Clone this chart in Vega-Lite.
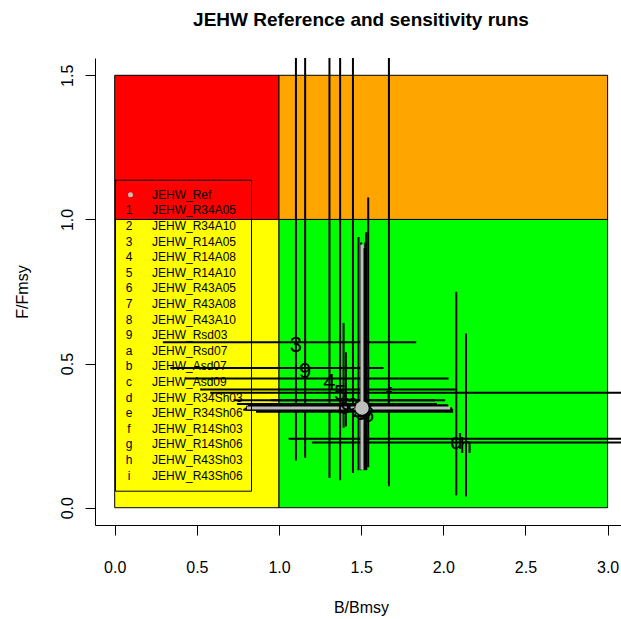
{
  "$schema": "https://vega.github.io/schema/vega-lite/v6.json",
  "width": 526,
  "height": 467,
  "autosize": {"type": "none"},
  "padding": {"left": 95, "top": 58, "right": 0, "bottom": 94},
  "title": {"text": "JEHW Reference and sensitivity runs", "fontSize": 19, "fontWeight": "bold", "color": "black", "baseline": "alphabetic", "frame": "group", "offset": 13, "dx": 3, "anchor": "middle"},
  "config": {"view": {"stroke": null}, "font": "Liberation Sans"},
  "datasets": {
    "runs": [
      {"run": "JEHW_Ref", "code": "", "B": 1.505, "F": 0.346, "Blo": 0.805, "Bhi": 2.042, "Flo": 0.132, "Fhi": 0.913},
      {"run": "JEHW_R34A05", "code": "1", "B": 1.519, "F": 0.343, "Blo": 0.79, "Bhi": 2.05, "Flo": 0.13, "Fhi": 0.9},
      {"run": "JEHW_R34A10", "code": "2", "B": 1.484, "F": 0.35, "Blo": 0.8, "Bhi": 2.03, "Flo": 0.13, "Fhi": 0.939},
      {"run": "JEHW_R14A05", "code": "3", "B": 1.103, "F": 0.574, "Blo": 0.293, "Bhi": 1.835, "Flo": 0.164, "Fhi": 2.2},
      {"run": "JEHW_R14A08", "code": "4", "B": 1.307, "F": 0.448, "Blo": 0.429, "Bhi": 2.032, "Flo": 0.103, "Fhi": 2.2},
      {"run": "JEHW_R14A10", "code": "5", "B": 1.372, "F": 0.41, "Blo": 0.52, "Bhi": 2.078, "Flo": 0.095, "Fhi": 2.2},
      {"run": "JEHW_R43A05", "code": "6", "B": 1.543, "F": 0.333, "Blo": 0.86, "Bhi": 2.06, "Flo": 0.14, "Fhi": 1.076},
      {"run": "JEHW_R43A08", "code": "7", "B": 1.531, "F": 0.34, "Blo": 0.782, "Bhi": 2.06, "Flo": 0.13, "Fhi": 0.956},
      {"run": "JEHW_R43A10", "code": "8", "B": 1.525, "F": 0.345, "Blo": 0.8, "Bhi": 2.05, "Flo": 0.135, "Fhi": 0.92},
      {"run": "JEHW_Rsd03", "code": "9", "B": 1.159, "F": 0.485, "Blo": 0.338, "Bhi": 1.636, "Flo": 0.173, "Fhi": 2.2},
      {"run": "JEHW_Rsd07", "code": "a", "B": 1.45, "F": 0.373, "Blo": 0.723, "Bhi": 2.011, "Flo": 0.12, "Fhi": 2.2},
      {"run": "JEHW_Asd07", "code": "b", "B": 1.393, "F": 0.36, "Blo": 0.744, "Bhi": 1.961, "Flo": 0.277, "Fhi": 0.641},
      {"run": "JEHW_Asd09", "code": "c", "B": 1.407, "F": 0.373, "Blo": 0.95, "Bhi": 1.95, "Flo": 0.282, "Fhi": 0.539},
      {"run": "JEHW_R34Sh03", "code": "d", "B": 2.079, "F": 0.239, "Blo": 1.058, "Bhi": 3.5, "Flo": 0.043, "Fhi": 0.749},
      {"run": "JEHW_R34Sh06", "code": "e", "B": 1.51, "F": 0.35, "Blo": 0.82, "Bhi": 2.0, "Flo": 0.14, "Fhi": 0.9},
      {"run": "JEHW_R14Sh03", "code": "f", "B": 1.669, "F": 0.399, "Blo": 0.581, "Bhi": 3.5, "Flo": 0.074, "Fhi": 2.2},
      {"run": "JEHW_R14Sh06", "code": "g", "B": 1.5, "F": 0.355, "Blo": 0.81, "Bhi": 2.03, "Flo": 0.13, "Fhi": 0.92},
      {"run": "JEHW_R43Sh03", "code": "h", "B": 2.138, "F": 0.226, "Blo": 1.2, "Bhi": 3.5, "Flo": 0.039, "Fhi": 0.604},
      {"run": "JEHW_R43Sh06", "code": "i", "B": 1.53, "F": 0.34, "Blo": 0.8, "Bhi": 2.05, "Flo": 0.135, "Fhi": 0.95}
    ]
  },
  "layer": [
    {
      "data": {"values": [{"x": 0, "x2": 1, "y": 0, "y2": 1}]},
      "mark": {"type": "rect", "color": "#FFFF00", "stroke": "black", "strokeWidth": 1},
      "encoding": {
        "x": {"field": "x", "type": "quantitative", "title": "B/Bmsy", "scale": {"domain": [-0.12, 3.0815], "nice": false, "zero": false},
          "axis": {"values": [0, 0.5, 1, 1.5, 2, 2.5, 3], "format": ".1f", "grid": false, "domainColor": "black", "tickColor": "black", "tickSize": 10, "labelFontSize": 16, "labelColor": "black", "labelPadding": 37.7, "labelBaseline": "alphabetic", "labelFlush": false, "labelOverlap": false, "titleFontSize": 16, "titleFontWeight": "normal", "titleColor": "black", "titleBaseline": "alphabetic", "titleAlign": "center", "titleX": 266, "titleY": 87}},
        "x2": {"field": "x2"},
        "y": {"field": "y", "type": "quantitative", "title": "F/Fmsy", "scale": {"domain": [-0.06, 1.56], "nice": false, "zero": false},
          "axis": {"values": [0, 0.5, 1, 1.5], "format": ".1f", "grid": false, "domainColor": "black", "tickColor": "black", "tickSize": 10, "labelFontSize": 16, "labelColor": "black", "labelAngle": 270, "labelAlign": "center", "labelBaseline": "alphabetic", "labelPadding": 13, "labelFlush": false, "labelOverlap": false, "titleFontSize": 16, "titleFontWeight": "normal", "titleColor": "black", "titleAngle": 270, "titleBaseline": "alphabetic", "titleAlign": "center", "titleX": -67.7, "titleY": 233.5}},
        "y2": {"field": "y2"}
      }
    },
    {
      "data": {"values": [{"x": 1, "x2": 3, "y": 0, "y2": 1}]},
      "mark": {"type": "rect", "color": "#00FF00", "stroke": "black", "strokeWidth": 1, "clip": true},
      "encoding": {
        "x": {"field": "x", "type": "quantitative", "title": "B/Bmsy", "scale": {"domain": [-0.12, 3.0815], "nice": false, "zero": false}},
        "x2": {"field": "x2"},
        "y": {"field": "y", "type": "quantitative", "title": "F/Fmsy", "scale": {"domain": [-0.06, 1.56], "nice": false, "zero": false}},
        "y2": {"field": "y2"}
      }
    },
    {
      "data": {"values": [{"x": 0, "x2": 1, "y": 1, "y2": 1.5}]},
      "mark": {"type": "rect", "color": "#FF0000", "stroke": "black", "strokeWidth": 1},
      "encoding": {
        "x": {"field": "x", "type": "quantitative", "title": "B/Bmsy", "scale": {"domain": [-0.12, 3.0815], "nice": false, "zero": false}},
        "x2": {"field": "x2"},
        "y": {"field": "y", "type": "quantitative", "title": "F/Fmsy", "scale": {"domain": [-0.06, 1.56], "nice": false, "zero": false}},
        "y2": {"field": "y2"}
      }
    },
    {
      "data": {"values": [{"x": 1, "x2": 3, "y": 1, "y2": 1.5}]},
      "mark": {"type": "rect", "color": "#FFA500", "stroke": "black", "strokeWidth": 1, "clip": true},
      "encoding": {
        "x": {"field": "x", "type": "quantitative", "title": "B/Bmsy", "scale": {"domain": [-0.12, 3.0815], "nice": false, "zero": false}},
        "x2": {"field": "x2"},
        "y": {"field": "y", "type": "quantitative", "title": "F/Fmsy", "scale": {"domain": [-0.06, 1.56], "nice": false, "zero": false}},
        "y2": {"field": "y2"}
      }
    },
    {
      "data": {"name": "runs"},
      "transform": [{"filter": "datum.run !== 'JEHW_Ref'"}],
      "mark": {"type": "rule", "color": "black", "strokeWidth": 2, "clip": true},
      "encoding": {
        "x": {"field": "Blo", "type": "quantitative", "title": "B/Bmsy", "scale": {"domain": [-0.12, 3.0815], "nice": false, "zero": false}},
        "x2": {"field": "Bhi"},
        "y": {"field": "F", "type": "quantitative", "title": "F/Fmsy", "scale": {"domain": [-0.06, 1.56], "nice": false, "zero": false}}
      }
    },
    {
      "data": {"name": "runs"},
      "transform": [{"filter": "datum.run !== 'JEHW_Ref'"}],
      "mark": {"type": "rule", "color": "black", "strokeWidth": 2, "clip": true},
      "encoding": {
        "x": {"field": "B", "type": "quantitative", "title": "B/Bmsy", "scale": {"domain": [-0.12, 3.0815], "nice": false, "zero": false}},
        "y": {"field": "Flo", "type": "quantitative", "title": "F/Fmsy", "scale": {"domain": [-0.06, 1.56], "nice": false, "zero": false}},
        "y2": {"field": "Fhi"}
      }
    },
    {
      "data": {"name": "runs"},
      "transform": [{"filter": "datum.run === 'JEHW_Ref'"}],
      "mark": {"type": "rule", "color": "#BEBEBE", "strokeWidth": 3, "clip": true},
      "encoding": {
        "x": {"field": "Blo", "type": "quantitative", "title": "B/Bmsy", "scale": {"domain": [-0.12, 3.0815], "nice": false, "zero": false}},
        "x2": {"field": "Bhi"},
        "y": {"field": "F", "type": "quantitative", "title": "F/Fmsy", "scale": {"domain": [-0.06, 1.56], "nice": false, "zero": false}}
      }
    },
    {
      "data": {"name": "runs"},
      "transform": [{"filter": "datum.run === 'JEHW_Ref'"}],
      "mark": {"type": "rule", "color": "#BEBEBE", "strokeWidth": 3, "clip": true},
      "encoding": {
        "x": {"field": "B", "type": "quantitative", "title": "B/Bmsy", "scale": {"domain": [-0.12, 3.0815], "nice": false, "zero": false}},
        "y": {"field": "Flo", "type": "quantitative", "title": "F/Fmsy", "scale": {"domain": [-0.06, 1.56], "nice": false, "zero": false}},
        "y2": {"field": "Fhi"}
      }
    },
    {
      "mark": {"type": "rule", "color": "black", "strokeWidth": 2},
      "encoding": {
        "x": {"datum": 1, "type": "quantitative", "title": "B/Bmsy", "scale": {"domain": [-0.12, 3.0815], "nice": false, "zero": false}}
      }
    },
    {
      "mark": {"type": "rule", "color": "black", "strokeWidth": 2},
      "encoding": {
        "y": {"datum": 1, "type": "quantitative", "title": "F/Fmsy", "scale": {"domain": [-0.06, 1.56], "nice": false, "zero": false}}
      }
    },
    {
      "mark": {"type": "rule", "color": "black", "strokeWidth": 1},
      "encoding": {
        "y": {"datum": 1.56, "type": "quantitative", "title": "F/Fmsy", "scale": {"domain": [-0.06, 1.56], "nice": false, "zero": false}}
      }
    },
    {
      "data": {"name": "runs"},
      "transform": [{"filter": "datum.run !== 'JEHW_Ref'"}],
      "mark": {"type": "text", "fontSize": 22, "baseline": "middle", "align": "center", "dy": 3, "clip": true},
      "encoding": {
        "x": {"field": "B", "type": "quantitative", "title": "B/Bmsy", "scale": {"domain": [-0.12, 3.0815], "nice": false, "zero": false}},
        "y": {"field": "F", "type": "quantitative", "title": "F/Fmsy", "scale": {"domain": [-0.06, 1.56], "nice": false, "zero": false}},
        "text": {"field": "code"},
        "color": {"field": "code", "type": "nominal",
          "scale": {"range": ["black","black","black","black","black","black","black","black","black","black","black","black","black","black","black","black","black","black"]},
          "legend": {"orient": "none", "legendX": 20, "legendY": 137.3, "title": null, "symbolOpacity": 0, "symbolSize": 25, "symbolStrokeWidth": 0, "labelOffset": -5.5, "labelAlign": "center", "labelFontSize": 12, "labelColor": "black", "clipHeight": 15, "rowPadding": 0.6, "padding": 7.5}}
      }
    },
    {
      "data": {"name": "runs"},
      "mark": {"type": "point", "shape": "circle", "filled": true, "size": 180, "strokeWidth": 0, "opacity": 1},
      "encoding": {
        "x": {"field": "B", "type": "quantitative", "title": "B/Bmsy", "scale": {"domain": [-0.12, 3.0815], "nice": false, "zero": false}},
        "y": {"field": "F", "type": "quantitative", "title": "F/Fmsy", "scale": {"domain": [-0.06, 1.56], "nice": false, "zero": false}},
        "fill": {"field": "run", "type": "nominal",
          "scale": {"domain": ["JEHW_Ref","JEHW_R34A05","JEHW_R34A10","JEHW_R14A05","JEHW_R14A08","JEHW_R14A10","JEHW_R43A05","JEHW_R43A08","JEHW_R43A10","JEHW_Rsd03","JEHW_Rsd07","JEHW_Asd07","JEHW_Asd09","JEHW_R34Sh03","JEHW_R34Sh06","JEHW_R14Sh03","JEHW_R14Sh06","JEHW_R43Sh03","JEHW_R43Sh06"],
            "range": ["#BEBEBE","transparent","transparent","transparent","transparent","transparent","transparent","transparent","transparent","transparent","transparent","transparent","transparent","transparent","transparent","transparent","transparent","transparent","transparent"]},
          "legend": {"orient": "none", "legendX": 20, "legendY": 121.7, "title": null, "symbolType": "circle", "symbolSize": 25, "symbolStrokeWidth": 0, "symbolOpacity": 1, "symbolOffset": 2, "labelOffset": 15.5, "labelFontSize": 12, "labelColor": "black", "labelLimit": 0, "clipHeight": 15, "rowPadding": 0.6, "padding": 7.5, "strokeColor": "black"}}
      }
    }
  ]
}
